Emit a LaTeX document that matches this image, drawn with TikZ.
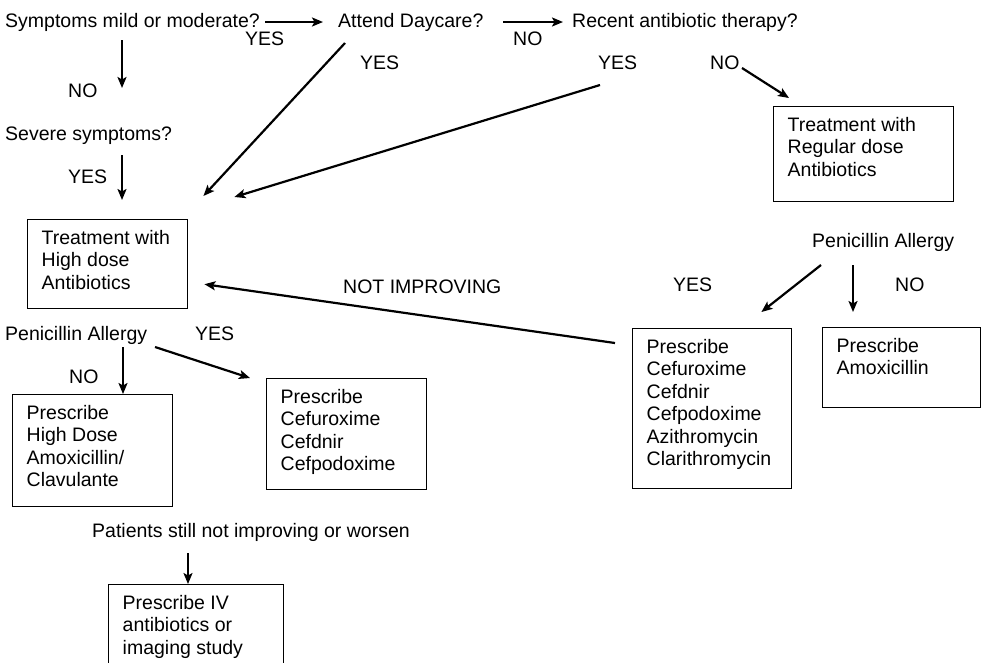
\documentclass[tikz,border=0pt]{standalone}
\usepackage{fontspec}
\setmainfont{Liberation Sans}
\usetikzlibrary{arrows.meta}
\begin{document}
\begin{tikzpicture}[x=1pt,y=-1pt,
  txt/.style={inner sep=0pt,anchor=base west,font=\fontsize{19.5}{22.5}\selectfont},
  boxnode/.style={draw,line width=1.4pt,anchor=north west,inner xsep=14pt,inner ysep=10.5pt,
    font=\fontsize{19.5}{22.5}\selectfont},
  arr/.style={line width=2.2pt,-{Stealth[length=11pt,width=9pt,inset=2.5pt]}}]
\newcommand{\bx}[3]{\parbox[c][#2pt][t]{#1pt}{\raggedright #3}}
\useasboundingbox (0,0) rectangle (981,662);
\clip (0,0) rectangle (981,662);
\fill[white] (0,0) rectangle (981,662);

% text nodes
\node[txt] (sym) at (5,27) {Symptoms mild or moderate?};
\node[txt] (yes1) at (245,45) {YES};
\node[txt] (att) at (338,27) {Attend Daycare?};
\node[txt] (no1) at (513,45) {NO};
\node[txt] (rec) at (572,27) {Recent antibiotic therapy?};
\node[txt] (no2) at (68,97) {NO};
\node[txt] (sev) at (5,140) {Severe symptoms?};
\node[txt] (yes2) at (68,183) {YES};
\node[txt] (yes3) at (360,69) {YES};
\node[txt] (yes4) at (598,69) {YES};
\node[txt] (no3) at (710,69) {NO};
\node[txt] (penr) at (812,247) {Penicillin Allergy};
\node[txt] (yes5) at (673,291) {YES};
\node[txt] (no4) at (895,291) {NO};
\node[txt] (notimp) at (343,293) {NOT IMPROVING};
\node[txt] (penl) at (5,340) {Penicillin Allergy};
\node[txt] (yes6) at (195,340) {YES};
\node[txt] (no5) at (69,383) {NO};
\node[txt] (pat) at (92,537) {Patients still not improving or worsen};

% boxes
\node[boxnode] (reg) at (773,106) {\bx{152}{74}{Treatment with\\Regular dose\\Antibiotics}};
\node[boxnode] (hd) at (27,219) {\bx{132}{68}{Treatment with\\High dose\\Antibiotics}};
\node[boxnode] (cefb) at (632,328) {\bx{131}{139}{Prescribe\\Cefuroxime\\Cefdnir\\Cefpodoxime\\Azithromycin\\Clarithromycin}};
\node[boxnode] (amox) at (822,327) {\bx{130}{59}{Prescribe\\Amoxicillin}};
\node[boxnode] (amc) at (12,394) {\bx{132}{91}{Prescribe\\High Dose\\Amoxicillin/\\Clavulante}};
\node[boxnode] (cefs) at (266,378) {\bx{132}{90}{Prescribe\\Cefuroxime\\Cefdnir\\Cefpodoxime}};
\node[boxnode] (iv) at (108,584) {\bx{147}{80}{Prescribe IV\\antibiotics or\\imaging study}};

% connectors
\draw[arr] ([shift={(260,-5)}]sym.base west) -- ([shift={(-15,-5)}]att.base west);
\draw[arr] ([shift={(165,-5)}]att.base west) -- ([shift={(-9,-5)}]rec.base west);
\draw[arr] ([shift={(117,13)}]sym.base west) -- ([shift={(117,-52)}]sev.base west);
\draw[arr] ([shift={(117,15)}]sev.base west) -- ([shift={(95,-19)}]hd.north west);
\draw[arr] ([shift={(7,16)}]att.base west) -- ([shift={(15,-23)}]hd.north east);
\draw[arr] ([shift={(2,16)}]yes4.base west) -- ([shift={(46,-22)}]hd.north east);
\draw[arr] ([shift={(32,-1)}]no3.base west) -- ([shift={(16,-8)}]reg.north west);
\draw[arr] ([shift={(9,18)}]penr.base west) -- ([shift={(-31,-16)}]cefb.north east);
\draw[arr] ([shift={(41,18)}]penr.base west) -- ([shift={(31,-15)}]amox.north west);
\draw[arr] ([shift={(-17,15)}]cefb.north west) -- ([shift={(16,20)}]hd.east);
\draw[arr] ([shift={(118,7)}]penl.base west) -- ([shift={(111,0)}]amc.north west);
\draw[arr] ([shift={(150,7)}]penl.base west) -- ([shift={(-16,0)}]cefs.north west);
\draw[arr] ([shift={(96,16)}]pat.base west) -- ([shift={(80,0)}]iv.north west);
\end{tikzpicture}
\end{document}
